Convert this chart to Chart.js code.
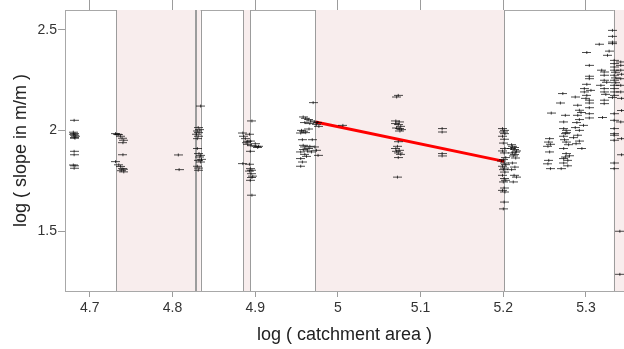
<!DOCTYPE html>
<html>
<head>
<meta charset="utf-8">
<script src="https://cdn.jsdelivr.net/npm/chart.js@4.4.1/dist/chart.umd.min.js"></script>
<style>
    html, body { margin: 0; padding: 0; background: #fff; }
    #wrap { width: 624px; height: 349px; }
</style>
</head>
<body>
<div id="wrap"><canvas id="slopeChart" width="624" height="349"></canvas></div>
<script>
// eixos
const xTicks = [4.7, 4.8, 4.9, 5.0, 5.1, 5.2, 5.3];
const yTicks = [1.5, 2.0, 2.5];
const xMin = 4.670, xMax = 5.346;
const yMin = 1.203, yMax = 2.599;

// trechos sombreados (log da área)
const shadedReaches = [
    [4.732, 4.8275],
    [4.829, 4.834],
    [4.8857, 4.8938],
    [4.9728, 5.2013],
    [5.3337, 5.40]
];

// pontos [log área, log declividade] por trecho
const reach1 = [
    [4.681, 2.051], [4.680, 1.992], [4.682, 1.985], [4.680, 1.982], [4.681, 1.977],
    [4.683, 1.972], [4.681, 1.966], [4.682, 1.962], [4.681, 1.897], [4.681, 1.880],
    [4.680, 1.829], [4.682, 1.825], [4.681, 1.813]
];
const reach2 = [
    [4.731, 1.985], [4.733, 1.982], [4.735, 1.980], [4.737, 1.972], [4.739, 1.962],
    [4.741, 1.952], [4.740, 1.940], [4.740, 1.880], [4.731, 1.846], [4.735, 1.830],
    [4.737, 1.822], [4.739, 1.811], [4.741, 1.808], [4.738, 1.801], [4.741, 1.795],
    [4.807, 1.879], [4.808, 1.806]
];
const reach3 = [
    [4.834, 2.122], [4.831, 2.015], [4.833, 2.005], [4.830, 1.998], [4.832, 1.990],
    [4.829, 1.982], [4.831, 1.972], [4.830, 1.960], [4.830, 1.911], [4.832, 1.886],
    [4.834, 1.877], [4.833, 1.869], [4.835, 1.857], [4.832, 1.852], [4.834, 1.844],
    [4.830, 1.823], [4.832, 1.814], [4.831, 1.803]
];
const reach4 = [
    [4.896, 2.048], [4.893, 1.982], [4.885, 1.988], [4.886, 1.972], [4.888, 1.960],
    [4.891, 1.947], [4.894, 1.948], [4.900, 1.935], [4.901, 1.922], [4.903, 1.916],
    [4.904, 1.922], [4.894, 1.897], [4.885, 1.836], [4.893, 1.833], [4.894, 1.811],
    [4.896, 1.803], [4.893, 1.799], [4.895, 1.786], [4.897, 1.774], [4.896, 1.767],
    [4.894, 1.753], [4.896, 1.679], [4.889, 1.940], [4.891, 1.932], [4.895, 1.925]
];
const reach5 = [
    [4.970, 2.139], [4.958, 2.068], [4.961, 2.061], [4.964, 2.055], [4.967, 2.048],
    [4.972, 2.043], [4.975, 2.040], [4.960, 2.040], [4.966, 2.035], [4.974, 2.031],
    [4.977, 2.021], [4.956, 2.001], [4.958, 1.997], [4.955, 1.988], [4.961, 1.990],
    [4.965, 2.008], [4.957, 1.955], [4.969, 1.955], [4.958, 1.927], [4.966, 1.922],
    [4.960, 1.919], [4.972, 1.919], [4.965, 1.911], [4.958, 1.906], [4.974, 1.902],
    [4.963, 1.899], [4.968, 1.894], [4.955, 1.894], [4.960, 1.882], [4.976, 1.877],
    [4.962, 1.872], [4.955, 1.861], [4.957, 1.844], [4.955, 1.823], [5.006, 2.026]
];
const reach6 = [
    [5.073, 2.175], [5.071, 2.167], [5.070, 2.048], [5.074, 2.043], [5.070, 2.035],
    [5.073, 2.030], [5.076, 2.021], [5.071, 2.013], [5.074, 2.010], [5.077, 2.005],
    [5.075, 1.998], [5.073, 1.945], [5.072, 1.922], [5.070, 1.911], [5.074, 1.902],
    [5.071, 1.897], [5.073, 1.889], [5.076, 1.882], [5.073, 1.866], [5.072, 1.769],
    [5.126, 2.010], [5.126, 1.993], [5.126, 1.886], [5.126, 1.874]
];
const reach7 = [
    [5.199, 2.010], [5.201, 2.001], [5.200, 1.993], [5.202, 1.985], [5.199, 1.972],
    [5.201, 1.957], [5.200, 1.938], [5.202, 1.911], [5.199, 1.899], [5.201, 1.889],
    [5.203, 1.866], [5.200, 1.856], [5.198, 1.849], [5.201, 1.839], [5.203, 1.831],
    [5.199, 1.823], [5.201, 1.814], [5.200, 1.806], [5.202, 1.794], [5.199, 1.778],
    [5.201, 1.762], [5.203, 1.753], [5.200, 1.745], [5.201, 1.715], [5.199, 1.703],
    [5.202, 1.695], [5.201, 1.645], [5.200, 1.611],
    [5.211, 1.922], [5.214, 1.916], [5.210, 1.911], [5.213, 1.906], [5.216, 1.899],
    [5.211, 1.889], [5.214, 1.881], [5.212, 1.874], [5.215, 1.864], [5.211, 1.839],
    [5.214, 1.819], [5.210, 1.806], [5.213, 1.778], [5.216, 1.769], [5.212, 1.745],
    [5.210, 1.930], [5.215, 1.893]
];
const reach8 = [
    [5.256, 1.960], [5.255, 1.943], [5.257, 1.932], [5.254, 1.922], [5.256, 1.894],
    [5.255, 1.852], [5.257, 1.811], [5.254, 1.835], [5.258, 2.087],
    [5.269, 2.137], [5.272, 2.184], [5.270, 1.811],
    [5.275, 2.076], [5.273, 2.043], [5.273, 2.010], [5.276, 2.001], [5.275, 1.985],
    [5.273, 1.972], [5.276, 1.943], [5.273, 1.911], [5.276, 1.886], [5.275, 1.869],
    [5.273, 1.861], [5.278, 1.852], [5.273, 1.839], [5.279, 1.930], [5.274, 1.955],
    [5.277, 1.990], [5.280, 1.875], [5.278, 1.825],
    [5.287, 2.167], [5.290, 2.126], [5.292, 2.101], [5.290, 2.076], [5.292, 2.055],
    [5.297, 2.026], [5.292, 2.001], [5.290, 1.977], [5.292, 1.948], [5.295, 1.911],
    [5.288, 1.935], [5.285, 1.965], [5.289, 2.040], [5.294, 2.090], [5.287, 2.015],
    [5.301, 2.388], [5.304, 2.324], [5.304, 2.270], [5.304, 2.258], [5.298, 2.209],
    [5.298, 2.192], [5.301, 2.175], [5.304, 2.151], [5.304, 2.137], [5.304, 2.114],
    [5.304, 2.084], [5.304, 2.063], [5.301, 2.230], [5.306, 2.200], [5.300, 2.160]
];
const reach9 = [
    [5.316, 2.429], [5.328, 2.395], [5.326, 2.374], [5.322, 2.291], [5.322, 2.275],
    [5.322, 2.250], [5.322, 2.209], [5.322, 2.192], [5.322, 2.151], [5.322, 2.134],
    [5.320, 2.065], [5.318, 2.225], [5.325, 2.240], [5.324, 2.180], [5.319, 2.300],
    [5.332, 2.498], [5.332, 2.468], [5.332, 2.440], [5.332, 2.432], [5.334, 2.349],
    [5.334, 2.333], [5.334, 2.316], [5.334, 2.300], [5.334, 2.275], [5.334, 2.250],
    [5.334, 2.225], [5.334, 2.209], [5.334, 2.192], [5.334, 2.175], [5.332, 2.164],
    [5.334, 2.084], [5.334, 2.051], [5.334, 2.010], [5.334, 1.985], [5.334, 1.977],
    [5.334, 1.952], [5.334, 1.839], [5.334, 1.811], [5.336, 2.290], [5.336, 2.262],
    [5.336, 2.238],
    [5.342, 2.341], [5.342, 2.324], [5.342, 2.300], [5.342, 2.258], [5.342, 2.225],
    [5.342, 2.192], [5.342, 2.043], [5.341, 1.500], [5.341, 1.286], [5.343, 2.280],
    [5.343, 2.160], [5.343, 2.100], [5.343, 1.960], [5.343, 1.880]
];

// reta ajustada
const fitArea = [4.973, 5.201];
const fitSlope = [2.043, 1.847];

const allReaches = [reach1, reach2, reach3, reach4, reach5, reach6, reach7, reach8, reach9];

// marcador: traço horizontal com tique vertical
function makeMarker() {
    const c = document.createElement('canvas');
    c.width = 9;
    c.height = 5;
    const g = c.getContext('2d');
    g.strokeStyle = 'rgba(0, 0, 0, 0.7)';
    g.lineWidth = 1;
    g.beginPath();
    g.moveTo(0, 2.5); g.lineTo(9, 2.5);
    g.moveTo(4.5, 1); g.lineTo(4.5, 4);
    g.stroke();
    return c;
}
const marker = makeMarker();

// faixas rosadas atrás dos pontos
const shadedPlugin = {
    id: 'shadedReaches',
    beforeDatasetsDraw(chart) {
        const { ctx, chartArea, scales } = chart;
        ctx.save();
        ctx.beginPath();
        ctx.rect(chartArea.left, chartArea.top, chartArea.right - chartArea.left, chartArea.bottom - chartArea.top);
        ctx.clip();
        shadedReaches.forEach(function (r) {
            const x0 = scales.x.getPixelForValue(r[0]);
            const x1 = scales.x.getPixelForValue(r[1]);
            ctx.fillStyle = '#f8eded';
            ctx.fillRect(x0, chartArea.top, x1 - x0, chartArea.bottom - chartArea.top);
            ctx.strokeStyle = '#9c9c9c';
            ctx.lineWidth = 1;
            ctx.beginPath();
            ctx.moveTo(Math.round(x0) + 0.5, chartArea.top);
            ctx.lineTo(Math.round(x0) + 0.5, chartArea.bottom);
            ctx.moveTo(Math.round(x1) + 0.5, chartArea.top);
            ctx.lineTo(Math.round(x1) + 0.5, chartArea.bottom);
            ctx.stroke();
        });
        ctx.restore();
    }
};

const datasets = allReaches.map(function (pts) {
    return {
        type: 'scatter',
        data: pts.map(p => ({ x: p[0], y: p[1] })),
        pointStyle: marker,
        pointRadius: 4,
        pointHoverRadius: 4
    };
});
datasets.push({
    type: 'line',
    data: fitArea.map((a, i) => ({ x: a, y: fitSlope[i] })),
    borderColor: '#ff0000',
    borderWidth: 3,
    pointRadius: 0,
    fill: false
});

const tickFmt = v => String(+(+v).toFixed(2));
const fontFam = "'Liberation Sans', Arial, sans-serif";

// tamanho fixo dos eixos, sem folga lateral
function fixHorizontal(h) {
    return function (s) {
        s.height = h;
        s.paddingLeft = 0;
        s.paddingRight = 0;
    };
}

new Chart(document.getElementById('slopeChart').getContext('2d'), {
    type: 'scatter',
    data: { datasets: datasets },
    plugins: [shadedPlugin],
    options: {
        responsive: false,
        animation: false,
        events: [],
        layout: { padding: 0, autoPadding: false },
        plugins: { legend: { display: false }, tooltip: { enabled: false } },
        scales: {
            x: {
                type: 'linear',
                position: 'bottom',
                min: xMin,
                max: xMax,
                afterBuildTicks: s => { s.ticks = xTicks.map(v => ({ value: v })); },
                afterFit: fixHorizontal(58),
                grid: { drawOnChartArea: false, tickLength: 6, color: '#9c9c9c' },
                border: { color: '#a8a8a8' },
                ticks: { padding: 3, color: '#333', font: { family: fontFam, size: 14 }, callback: tickFmt, maxRotation: 0 },
                title: {
                    display: true,
                    text: 'log ( catchment area )',
                    color: '#222',
                    font: { family: fontFam, size: 18 },
                    padding: { top: 0, bottom: 3 }
                }
            },
            xTop: {
                type: 'linear',
                position: 'top',
                min: xMin,
                max: xMax,
                afterBuildTicks: s => { s.ticks = xTicks.map(v => ({ value: v })); },
                afterFit: fixHorizontal(10),
                grid: { drawOnChartArea: false, tickLength: 10, color: '#9c9c9c' },
                border: { color: '#a8a8a8' },
                ticks: { display: false }
            },
            y: {
                type: 'linear',
                min: yMin,
                max: yMax,
                afterBuildTicks: s => { s.ticks = yTicks.map(v => ({ value: v })); },
                afterFit: s => { s.width = 65; s.paddingTop = 0; s.paddingBottom = 0; },
                grid: { drawOnChartArea: false, tickLength: 7, color: '#9c9c9c' },
                border: { color: '#a8a8a8' },
                ticks: { padding: 1, color: '#333', font: { family: fontFam, size: 14 }, callback: tickFmt },
                title: {
                    display: true,
                    text: 'log ( slope in m/m )',
                    color: '#222',
                    font: { family: fontFam, size: 18 },
                    padding: { top: 10, bottom: 0 }
                }
            }
        }
    }
});
</script>
</body>
</html>
